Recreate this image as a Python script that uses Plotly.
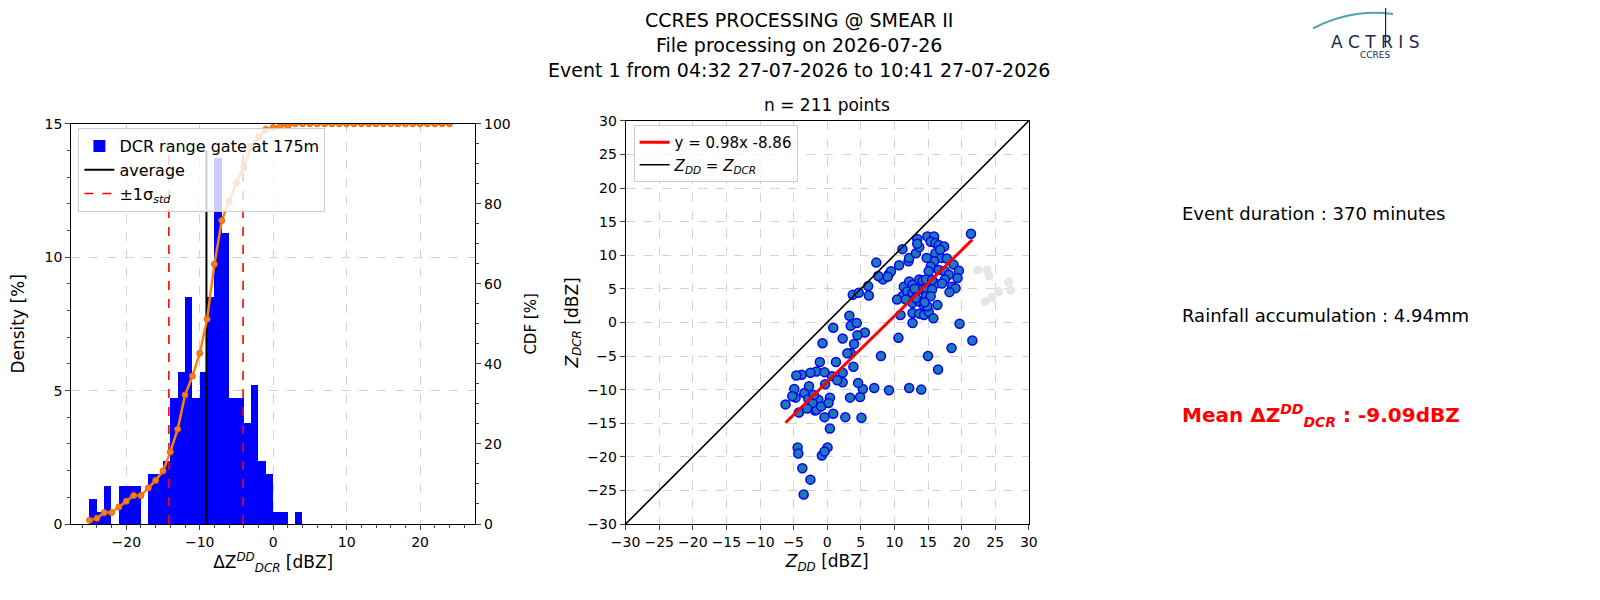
import numpy as np
from plotly import graph_objects as go

# histogram of DCR range gate differences (counts per 1 dB bin)
bin_left = list(range(-25, 4))
bin_counts = [2, 1, 3, 0, 3, 3, 3, 0, 4, 4, 5, 10, 12, 18, 10, 12, 18, 29, 23,
              10, 10, 8, 11, 5, 4, 1, 1, 0, 1]
cdf_x = list(range(-25, 25))
n_points = 211
mean_dz = -9.09
std_lo, std_hi = -14.2, -4.1

# scatter data Z_DD vs Z_DCR
z_dd = [-3.5, -2.5, -3.7, -4.4, -4.3, 0.05, -0.8, -0.4, 0.4, 2.7, 5.1, 0.9, -0.4, -1.8, -4.2,
        -6.2, -4.7, -4.9, -3.4, -2.7, -2.8, -1.3, -1.6, -2.2, -0.9, 0.4, -0.3, 2.3, 2.3, 0.7,
        1.3, -1.1, -1.6, -2.5, -3.8, -4.6, -0.4, 3.4, 4.9, 5.3, 4.6, 7.0, 9.2, 12.2, 14.0,
        3.9, 8.0, 10.6, 15.0, 16.5, 18.5, 21.6, 19.7, -0.7, 2.3, 0.9, 3.3, 3.5, 4.4, 5.6,
        4.5, 4.0, 3.5, 3.0, 3.8, 4.7, 6.2, 6.1, 7.3, 8.3, 7.6, 9.2, 10.7, 11.2, 12.1, 12.2,
        13.2, 13.7, 13.4, 13.4, 14.9, 15.9, 15.4, 16.1, 16.6, 17.4, 16.1, 17.0, 15.9, 14.8,
        15.4, 15.1, 16.6, 17.5, 18.8, 19.6, 18.1, 19.4, 18.6, 19.1, 18.2, 17.5, 16.1, 17.1,
        11.4, 12.2, 12.7, 13.7, 14.2, 14.7, 15.6, 11.2, 11.9, 12.7, 13.7, 14.7, 15.6, 10.4,
        11.7, 12.7, 13.7, 14.7, 15.4, 16.4, 12.7, 13.7, 14.4, 15.1, 10.9, 12.7, 15.8, 14.4,
        14.9, 13.2, 9.5, 9.0, 21.4, -3.0, -2.0, 1.5, 0.2, -5.2, 13.0, 14.5, 16.8, 17.8]
z_dcr = [-25.6, -23.4, -21.7, -18.6, -19.5, -18.6, -19.8, -19.2, -15.8, -14.1, -14.2, -13.6,
         -14.1, -13.1, -13.4, -12.2, -11.2, -9.9, -10.5, -9.5, -11.4, -11.5, -13.0, -12.0,
         -12.5, -11.2, -9.2, -8.9, -7.5, -8.0, -5.9, -5.9, -7.3, -7.5, -7.8, -7.9, -7.4,
         -11.2, -11.1, -9.9, -9.0, -9.75, -10.1, -9.75, -10.0, -6.6, -5.0, -2.3, -5.0, -7.0,
         -3.8, -2.7, -0.2, -3.1, -2.4, -0.8, 1.0, -0.5, -0.1, -1.5, -1.9, -3.2, -4.6, -4.6,
         4.1, 4.4, 4.0, 5.4, 8.9, 6.4, 6.9, 7.2, 8.5, 10.9, 9.1, 9.6, 10.3, 11.2, 12.4, 11.7,
         12.8, 12.8, 12.0, 11.8, 11.5, 11.3, 10.3, 9.6, 9.1, 9.6, 8.3, 7.6, 7.8, 7.6, 8.6, 7.7,
         7.1, 6.6, 5.3, 5.1, 4.5, 6.4, 5.8, 5.8, 5.3, 6.1, 5.6, 6.4, 6.2, 6.4, 6.3, 3.9, 4.6,
         4.4, 4.9, 5.1, 4.9, 3.4, 3.4, 2.9, 3.1, 3.9, 3.9, 2.6, 1.4, 1.3, 1.1, 1.6, 1.1, -0.1,
         0.6, 2.5, 2.4, 3.6, 7.6, 6.8, 13.2, -12.8, -10.8, -8.6, -12.0, -11.0, 5.0, 3.0,
         10.8, 9.5]
grey_dd = [22.4, 23.8, 24.1, 23.5, 24.5, 25.5, 27.0, 27.3]
grey_dcr = [7.8, 7.8, 6.9, 3.1, 3.7, 4.6, 6.0, 4.8]
fit_slope, fit_icpt = 0.98, -8.86

density = [c / n_points * 100 for c in bin_counts]
cdf = np.cumsum(bin_counts + [0] * (len(cdf_x) - len(bin_counts))) / n_points * 100

fig = go.Figure()

fig.add_trace(go.Bar(x=[b + 0.5 for b in bin_left], y=density, width=1,
                     marker=dict(color="#0000ff", line=dict(width=0)),
                     name="DCR range gate at 175m", legend="legend"))
fig.add_trace(go.Scatter(x=[mean_dz, mean_dz], y=[0, 14], mode="lines",
                         line=dict(color="black", width=2), name="average", legend="legend"))
fig.add_trace(go.Scatter(x=[std_lo, std_lo, None, std_hi, std_hi], y=[0, 14, None, 0, 14],
                         mode="lines", line=dict(color="red", width=1.6, dash="dash"),
                         name="±1σ<sub><i>std</i></sub>", legend="legend"))
fig.add_trace(go.Scatter(x=cdf_x, y=cdf, mode="lines+markers", yaxis="y2",
                         line=dict(color="#ff7f0e", width=2.5),
                         marker=dict(size=6, color="#ff7f0e", line=dict(color="#d2691e", width=1)),
                         showlegend=False))

# scatter panel
fig.add_trace(go.Scatter(x=grey_dd, y=grey_dcr, mode="markers", xaxis="x3", yaxis="y3",
                         marker=dict(size=9, color="#e6e6e6"), showlegend=False))
fig.add_trace(go.Scatter(x=z_dd, y=z_dcr, mode="markers", xaxis="x3", yaxis="y3",
                         marker=dict(size=9, color="#1f77b4", line=dict(color="#0000ff", width=1.5)),
                         showlegend=False))
xf = [min(z_dd), max(z_dd)]
fig.add_trace(go.Scatter(x=xf, y=[fit_slope * v + fit_icpt for v in xf], mode="lines",
                         xaxis="x3", yaxis="y3", line=dict(color="red", width=3),
                         name=f"y = {fit_slope}x {fit_icpt}", legend="legend2"))
fig.add_trace(go.Scatter(x=[-30, 30], y=[-30, 30], mode="lines", xaxis="x3", yaxis="y3",
                         line=dict(color="black", width=1.6),
                         name="<i>Z<sub>DD</sub></i> = <i>Z<sub>DCR</sub></i>", legend="legend2"))

ax = dict(showline=True, linecolor="black", mirror=True, ticks="outside", ticklen=5,
          gridcolor="#d3d3d3", griddash="dash", zeroline=False, tickfont=dict(size=14),
          automargin=False)
fig.update_layout(
    width=1600, height=600, plot_bgcolor="white", paper_bgcolor="white",
    font=dict(family="DejaVu Sans", color="black"),
    margin=dict(l=0, r=0, t=0, b=0), bargap=0,
    title=dict(text="CCRES PROCESSING @ SMEAR II<br>File processing on 2026-07-26<br>"
                    "Event 1 from 04:32 27-07-2026 to 10:41 27-07-2026",
               x=0.4945, y=0.968, xanchor="center", yanchor="top", font=dict(size=19)),
    xaxis=dict(ax, domain=[0.0395, 0.292], range=[-27.5, 27.5], tickvals=[-20, -10, 0, 10, 20],
               minor=dict(ticks="outside", ticklen=3, dtick=2, showgrid=False),
               title=dict(text="ΔZ<sup><i>DD</i></sup><sub><i>DCR</i></sub> [dBZ]", font=dict(size=17), standoff=6),
               anchor="y"),
    yaxis=dict(ax, domain=[0.14, 0.807], range=[0, 15], tickvals=[0, 5, 10, 15],
               minor=dict(ticks="outside", ticklen=3, dtick=1, showgrid=False),
               title=dict(text="Density [%]", font=dict(size=17)), anchor="x"),
    yaxis2=dict(ax, overlaying="y", side="right", range=[0, 100], tickvals=[0, 20, 40, 60, 80, 100],
                showgrid=False, minor=dict(ticks="outside", ticklen=3, dtick=5),
                title=dict(text="CDF [%]", font=dict(size=15)), anchor="x"),
    xaxis3=dict(ax, domain=[0.386, 0.638], range=[-30, 30], dtick=5, anchor="y3",
                title=dict(text="<i>Z<sub>DD</sub></i> [dBZ]", font=dict(size=17), standoff=6)),
    yaxis3=dict(ax, domain=[0.14, 0.812], range=[-30, 30], dtick=5, anchor="x3",
                title=dict(text="<i>Z<sub>DCR</sub></i> [dBZ]", font=dict(size=17), standoff=4)),
    legend=dict(x=0.044, y=0.8, xanchor="left", yanchor="top", bgcolor="rgba(255,255,255,0.8)",
                bordercolor="#cccccc", borderwidth=1, font=dict(size=16), tracegroupgap=0),
    legend2=dict(x=0.391, y=0.805, xanchor="left", yanchor="top", bgcolor="rgba(255,255,255,0.8)",
                 bordercolor="#cccccc", borderwidth=1, font=dict(size=15)),
    annotations=[
        dict(text=f"n = {n_points} points", x=0.512, y=0.818, xref="paper", yref="paper",
             xanchor="center", yanchor="bottom", showarrow=False, font=dict(size=17)),
        dict(text="Event duration : 370 minutes", x=0.7325, y=0.657, xref="paper", yref="paper",
             xanchor="left", showarrow=False, font=dict(size=18)),
        dict(text="Rainfall accumulation : 4.94mm", x=0.7325, y=0.488, xref="paper", yref="paper",
             xanchor="left", showarrow=False, font=dict(size=18)),
        dict(text="<b>Mean ΔZ<sup><i>DD</i></sup><sub><i>DCR</i></sub> : -9.09dBZ</b>", x=0.7325, y=0.293,
             xref="paper", yref="paper", xanchor="left", showarrow=False,
             font=dict(size=20, color="red")),
        dict(text="A C T R I S", x=0.8545, y=0.963, xref="paper", yref="paper", xanchor="center",
             showarrow=False, font=dict(size=17, color="#1a2a4a")),
        dict(text="CCRES", x=0.8545, y=0.933, xref="paper", yref="paper", xanchor="center",
             showarrow=False, font=dict(size=9, color="#1a2a4a")),
    ],
    shapes=[
        dict(type="path", xref="paper", yref="paper",
             path="M 0.8156 0.966 Q 0.84 1.0 0.8656 0.99", line=dict(color="#4aa8a8", width=2)),
        dict(type="line", xref="paper", yref="paper", x0=0.861, x1=0.861, y0=0.935, y1=1.0,
             line=dict(color="#1a2a4a", width=1.2)),
    ],
)

fig.write_html("out.html")
